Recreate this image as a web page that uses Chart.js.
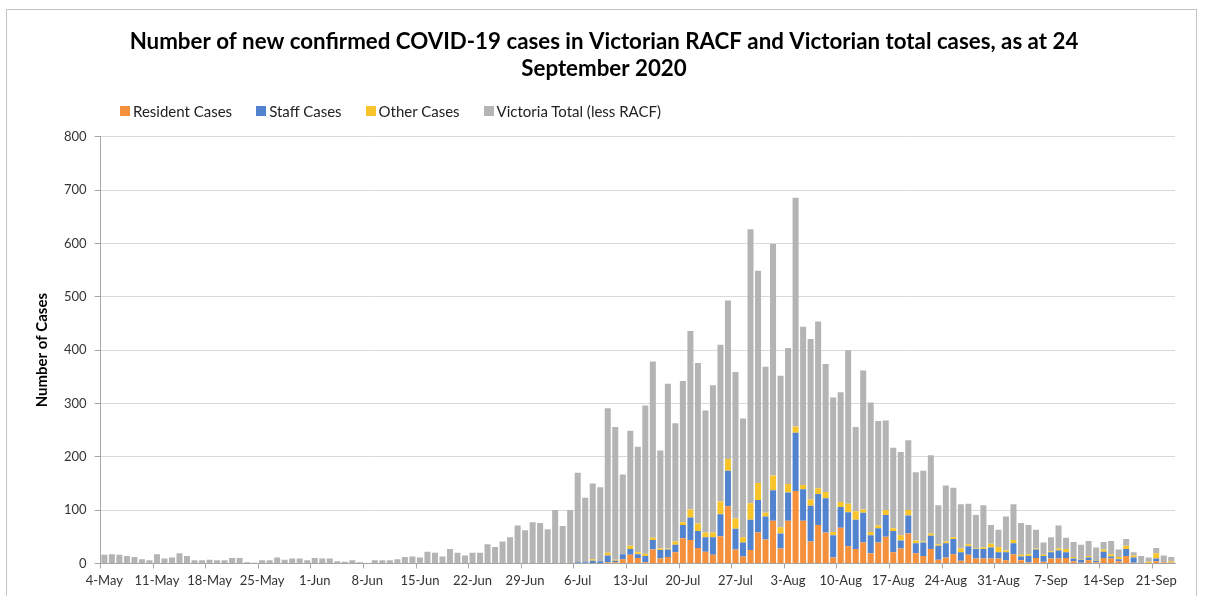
<!DOCTYPE html>
<html>
<head>
<meta charset="utf-8">
<title>New confirmed COVID-19 cases - Victorian RACF</title>
<script src="https://cdn.jsdelivr.net/npm/chart.js@4.4.1/dist/chart.umd.min.js"></script>
<style>
    html, body { margin: 0; padding: 0; background: #fff; }
    #wrap { position: relative; width: 1205px; height: 596px; overflow: hidden; font-family: Lato, 'Open Sans', sans-serif; }
    #frame { position: absolute; left: 6px; top: 9px; width: 1189px; height: 640px; border: 1px solid #c4c4c4; }
    #legend { position: absolute; left: 120px; top: 102px; display: flex; gap: 24px; font-size: 15px; line-height: 18px; color: #222; }
    #legend .item { display: flex; align-items: center; }
    #legend .swatch { width: 10px; height: 10px; margin-right: 3px; }
    canvas { position: absolute; left: 0; top: 0; }
</style>
</head>
<body>
<div id="wrap">
    <div id="frame"></div>
    <canvas id="racfChart" width="1205" height="596"></canvas>
    <div id="legend"></div>
</div>

<script>
// Daily categories, 4 May to 23 Sep 2020 (one row per week)
const dates = [
    '4-May', '5-May', '6-May', '7-May', '8-May', '9-May', '10-May',
    '11-May', '12-May', '13-May', '14-May', '15-May', '16-May', '17-May',
    '18-May', '19-May', '20-May', '21-May', '22-May', '23-May', '24-May',
    '25-May', '26-May', '27-May', '28-May', '29-May', '30-May', '31-May',
    '1-Jun', '2-Jun', '3-Jun', '4-Jun', '5-Jun', '6-Jun', '7-Jun',
    '8-Jun', '9-Jun', '10-Jun', '11-Jun', '12-Jun', '13-Jun', '14-Jun',
    '15-Jun', '16-Jun', '17-Jun', '18-Jun', '19-Jun', '20-Jun', '21-Jun',
    '22-Jun', '23-Jun', '24-Jun', '25-Jun', '26-Jun', '27-Jun', '28-Jun',
    '29-Jun', '30-Jun', '1-Jul', '2-Jul', '3-Jul', '4-Jul', '5-Jul',
    '6-Jul', '7-Jul', '8-Jul', '9-Jul', '10-Jul', '11-Jul', '12-Jul',
    '13-Jul', '14-Jul', '15-Jul', '16-Jul', '17-Jul', '18-Jul', '19-Jul',
    '20-Jul', '21-Jul', '22-Jul', '23-Jul', '24-Jul', '25-Jul', '26-Jul',
    '27-Jul', '28-Jul', '29-Jul', '30-Jul', '31-Jul', '1-Aug', '2-Aug',
    '3-Aug', '4-Aug', '5-Aug', '6-Aug', '7-Aug', '8-Aug', '9-Aug',
    '10-Aug', '11-Aug', '12-Aug', '13-Aug', '14-Aug', '15-Aug', '16-Aug',
    '17-Aug', '18-Aug', '19-Aug', '20-Aug', '21-Aug', '22-Aug', '23-Aug',
    '24-Aug', '25-Aug', '26-Aug', '27-Aug', '28-Aug', '29-Aug', '30-Aug',
    '31-Aug', '1-Sep', '2-Sep', '3-Sep', '4-Sep', '5-Sep', '6-Sep',
    '7-Sep', '8-Sep', '9-Sep', '10-Sep', '11-Sep', '12-Sep', '13-Sep',
    '14-Sep', '15-Sep', '16-Sep', '17-Sep', '18-Sep', '19-Sep', '20-Sep',
    '21-Sep', '22-Sep', '23-Sep'
];

const residentCases = [
    0, 0, 0, 0, 0, 0, 0,
    0, 0, 0, 0, 0, 0, 0,
    0, 0, 0, 0, 0, 0, 0,
    0, 0, 0, 0, 0, 0, 0,
    0, 0, 0, 0, 0, 0, 0,
    0, 0, 0, 0, 0, 0, 0,
    0, 0, 0, 0, 0, 0, 0,
    0, 0, 0, 0, 0, 0, 0,
    0, 0, 0, 0, 0, 0, 0,
    0, 0, 0, 0, 2, 2, 8,
    16, 10, 2, 26, 9, 12, 21,
    47, 44, 29, 22, 16, 51, 107,
    26, 13, 25, 58, 45, 80, 28,
    80, 136, 80, 41, 72, 58, 11,
    67, 32, 27, 39, 19, 39, 50,
    21, 28, 56, 19, 14, 27, 7,
    11, 17, 5, 16, 9, 9, 9,
    9, 6, 17, 6, 2, 10, 3,
    9, 9, 10, 4, 1, 6, 2,
    10, 9, 4, 14, 1, 0, 0,
    4, 2, 0
];

const staffCases = [
    0, 0, 0, 0, 0, 0, 0,
    0, 0, 0, 0, 0, 0, 0,
    0, 0, 0, 0, 0, 0, 0,
    0, 0, 0, 0, 0, 0, 0,
    0, 0, 0, 0, 0, 0, 0,
    0, 0, 0, 0, 0, 0, 0,
    0, 0, 0, 0, 0, 0, 0,
    0, 0, 0, 0, 0, 0, 0,
    0, 0, 0, 0, 0, 0, 0,
    2, 2, 5, 4, 13, 3, 9,
    11, 7, 12, 18, 16, 14, 14,
    25, 42, 32, 27, 33, 41, 67,
    39, 26, 57, 61, 43, 57, 28,
    53, 109, 59, 67, 58, 64, 42,
    39, 64, 55, 56, 34, 27, 41,
    40, 15, 34, 19, 25, 25, 26,
    27, 29, 16, 16, 18, 18, 21,
    12, 15, 21, 7, 12, 16, 11,
    12, 15, 11, 5, 6, 5, 3,
    12, 4, 4, 13, 10, 0, 0,
    5, 0, 1
];

const otherCases = [
    0, 0, 0, 0, 0, 0, 0,
    0, 0, 0, 0, 0, 0, 0,
    0, 0, 0, 0, 0, 0, 0,
    0, 0, 0, 0, 0, 0, 0,
    0, 0, 0, 0, 0, 0, 0,
    0, 0, 0, 0, 0, 0, 0,
    0, 0, 0, 0, 0, 0, 0,
    0, 0, 0, 0, 0, 0, 0,
    0, 0, 0, 0, 0, 0, 0,
    0, 0, 3, 0, 5, 2, 0,
    6, 4, 4, 4, 3, 2, 6,
    5, 15, 14, 9, 9, 24, 22,
    19, 10, 31, 32, 7, 28, 12,
    16, 12, 8, 12, 11, 12, 6,
    9, 16, 16, 6, 6, 5, 9,
    5, 10, 10, 5, 2, 4, 3,
    3, 3, 7, 4, 1, 3, 7,
    10, 3, 6, 3, 3, 2, 2,
    2, 4, 6, 3, 1, 3, 1,
    4, 4, 4, 6, 4, 0, 3,
    10, 0, 3
];

// Victoria total less RACF (stacked on top of the RACF cases)
const victoriaTotal = [
    16, 17, 16, 14, 12, 8, 6,
    17, 9, 11, 19, 14, 6, 6,
    7, 6, 6, 10, 10, 2, 1,
    6, 6, 11, 7, 9, 9, 6,
    10, 9, 9, 4, 3, 6, 2,
    0, 6, 6, 6, 8, 12, 13,
    11, 22, 20, 13, 27, 20, 15,
    20, 20, 36, 31, 41, 49, 71,
    62, 77, 76, 64, 100, 70, 100,
    168, 121, 142, 139, 271, 249, 150,
    216, 198, 278, 331, 184, 309, 222,
    265, 335, 301, 229, 276, 294, 297,
    275, 223, 514, 398, 274, 434, 284,
    255, 429, 297, 301, 313, 240, 252,
    206, 288, 158, 261, 243, 196, 168,
    151, 156, 131, 128, 133, 147, 73,
    105, 93, 83, 76, 63, 79, 35,
    32, 64, 67, 60, 55, 35, 23,
    26, 43, 21, 28, 27, 28, 24,
    14, 25, 14, 13, 6, 14, 8,
    10, 13, 8
];

const yMax = 800;
const yStep = 100;
const labelEvery = 7; // one date label per week

const seriesNames = ['Resident Cases', 'Staff Cases', 'Other Cases', 'Victoria Total (less RACF)'];
const seriesColors = ['#F5913D', '#5283CF', '#F7C52B', '#B4B4B4'];

document.addEventListener('DOMContentLoaded', () => {
    buildLegend();
    drawChart();
});

// Excel-style legend sitting above the plot, left side
function buildLegend() {
    const legend = document.getElementById('legend');
    seriesNames.forEach((name, i) => {
        const item = document.createElement('div');
        item.className = 'item';
        item.innerHTML = `<span class="swatch" style="background:${seriesColors[i]}"></span><span>${name}</span>`;
        legend.appendChild(item);
    });
}

function drawChart() {
    const ctx = document.getElementById('racfChart');
    const tickFont = { family: 'Lato', size: 13 };

    new Chart(ctx.getContext('2d'), {
        type: 'bar',
        data: {
            labels: dates,
            datasets: [
                { label: seriesNames[0], data: residentCases, backgroundColor: seriesColors[0] },
                { label: seriesNames[1], data: staffCases, backgroundColor: seriesColors[1] },
                { label: seriesNames[2], data: otherCases, backgroundColor: seriesColors[2] },
                { label: seriesNames[3], data: victoriaTotal, backgroundColor: seriesColors[3] }
            ]
        },
        options: {
            responsive: false,
            animation: false,
            layout: { padding: { left: 33, right: 30, top: 0, bottom: 2 } },
            datasets: { bar: { barPercentage: 0.8, categoryPercentage: 1.0 } },
            plugins: {
                legend: { display: false },
                tooltip: { enabled: false },
                title: {
                    display: true,
                    text: ['Number of new confirmed COVID-19 cases in Victorian RACF and Victorian total cases, as at 24', 'September 2020'],
                    color: '#000',
                    font: { family: 'Lato', size: 22.3, weight: 'bold', lineHeight: 1.21 },
                    padding: { top: 28, bottom: 55 }
                }
            },
            scales: {
                x: {
                    stacked: true,
                    border: { color: '#a6a6a6' },
                    grid: {
                        drawOnChartArea: false,
                        tickLength: 5,
                        color: c => (c.index % labelEvery === 0 ? '#a6a6a6' : 'rgba(0,0,0,0)')
                    },
                    ticks: {
                        autoSkip: false,
                        maxRotation: 0,
                        padding: 5,
                        color: '#333',
                        font: tickFont,
                        callback: (val, i) => (i % labelEvery === 0 ? dates[i] : '')
                    }
                },
                y: {
                    stacked: true,
                    min: 0,
                    max: yMax,
                    border: { color: '#a6a6a6' },
                    grid: { color: '#d9d9d9', tickColor: '#a6a6a6', tickLength: 6 },
                    ticks: { stepSize: yStep, padding: 8, color: '#333', font: tickFont },
                    title: {
                        display: true,
                        text: 'Number of Cases',
                        color: '#000',
                        font: { family: 'Lato', size: 15, weight: 'bold' },
                        padding: { top: 0, bottom: 5 }
                    }
                }
            }
        }
    });
}
</script>
</body>
</html>
